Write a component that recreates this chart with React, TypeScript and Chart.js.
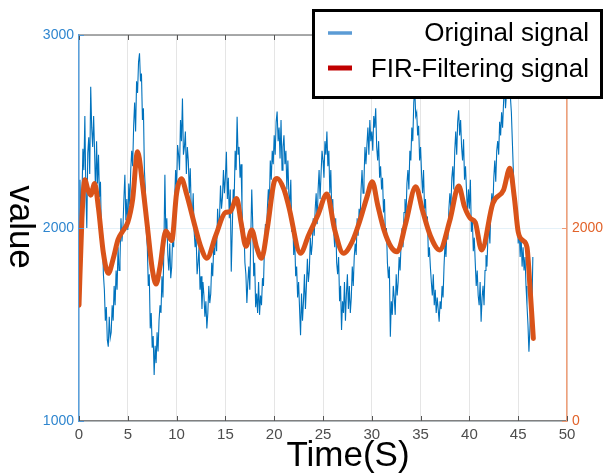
import React, { useEffect, useRef } from "react";
import { Chart, registerables } from "chart.js";

Chart.register(...registerables);

// ---- Data ----
const xTicks = [0, 5, 10, 15, 20, 25, 30, 35, 40, 45, 50];
const leftTicks = [1000, 2000, 3000];
const rightTicks = [0, 2000, 4000];
const sampleStep = 0.1; // seconds between original samples

// Original signal, one row per second (10 samples each)
const originalSignal = [
  1980, 2250, 2060, 2150, 2410, 2300, 2580, 2200, 2000, 2390,
  2470, 2280, 2732, 2520, 2420, 2580, 2390, 2170, 2450, 2230,
  2380, 2160, 2240, 1950, 1980, 1760, 1680, 1520, 1590, 1420,
  1385, 1540, 1430, 1460, 1600, 1520, 1700, 1600, 1780, 1680,
  1900, 1780, 1830, 2050, 1930, 2000, 2150, 2276, 2040, 2150,
  1990, 2230, 2120, 2300, 2400, 2320, 2530, 2650, 2500, 2760,
  2700, 2860, 2905, 2760, 2800, 2560, 2620, 2300, 2200, 1980,
  1900, 1700, 1760, 1480, 1560, 1380, 1440, 1238, 1390, 1300,
  1460, 1360, 1520, 1600, 1560, 1750, 1640, 1900, 2276, 1950,
  2050, 1860, 1780, 1920, 1740, 1800, 1960, 1900, 2150, 2300,
  2200, 2430, 2380, 2300, 2560, 2450, 2671, 2380, 2420, 2500,
  2280, 2420, 2350, 2180, 2310, 2100, 2050, 2180, 1980, 1900,
  1960, 1760, 1820, 1900, 1680, 1750, 1580, 1720, 1650, 1540,
  1620, 1480, 1560, 1700, 1611, 1660, 1820, 1750, 1900, 1860,
  1980, 1880, 2100, 1990, 2060, 2220, 2100, 2160, 2300, 2180,
  2260, 2395, 2150, 2260, 2050, 2200, 1774, 1980, 2200, 2150,
  2400, 2300, 2576, 2380, 2420, 2260, 2330, 2110, 1950, 2000,
  1820, 1760, 1611, 1720, 1800, 1680, 1950, 2200, 2020, 1750,
  1820, 1590, 1660, 1560, 1720, 1550, 1650, 1600, 1740, 1700,
  1900, 2020, 1940, 2100, 2200, 2120, 2350, 2250, 2400, 2330,
  2480, 2380, 2550, 2604, 2450, 2520, 2360, 2560, 2300, 2420,
  2480, 2330, 2400, 2200, 2350, 2180, 2120, 2250, 1980, 2050,
  1860, 1950, 1750, 1800, 1640, 1720, 1580, 1445, 1660, 1520,
  1620, 1760, 1580, 1700, 1840, 1720, 1780, 1950, 1860, 1920,
  2050, 1960, 2100, 2180, 2020, 2200, 2300, 2150, 2280, 2400,
  2350, 2260, 2450, 2380, 2500, 2320, 2400, 2180, 2300, 2080,
  2150, 1980, 1900, 2050, 1820, 1760, 1850, 1620, 1700, 1471,
  1620, 1560, 1720, 1520, 1660, 1760, 1580, 1700, 1560, 1640,
  1800, 1700, 1850, 1920, 1860, 2050, 1960, 2100, 2040, 2200,
  2300, 2180, 2250, 2420, 2330, 2430, 2520, 2380, 2560, 2450,
  2500, 2400, 2580, 2520, 2620, 2420, 2350, 2450, 2260, 2320,
  2200, 2260, 2080, 2150, 1950, 2000, 1820, 1740, 1800, 1437,
  1620, 1550, 1700, 1640, 1550, 1760, 1650, 1720, 1850, 1780,
  1920, 2000, 1900, 2080, 2150, 2050, 2230, 2300, 2200, 2400,
  2350, 2520, 2450, 2650, 2720, 2580, 2600, 2480, 2530, 2350,
  2420, 2280, 2180, 2300, 2100, 2150, 2000, 2060, 1850, 1900,
  1800, 1720, 1650, 1760, 1600, 1680, 1560, 1640, 1580, 1515,
  1620, 1580, 1700, 1640, 1800, 1920, 1850, 2000, 1940, 2100,
  2180, 2100, 2260, 2320, 2200, 2400, 2500, 2380, 2550, 2610,
  2480, 2560, 2420, 2350, 2460, 2250, 2320, 2200, 2080, 2200,
  2100, 2250, 1980, 2050, 1880, 1950, 1820, 1700, 1780, 1650,
  1600, 1720, 1514, 1640, 1700, 1600, 1780, 1860, 1800, 1960,
  2000, 1920, 2100, 2180, 2100, 2260, 2350, 2240, 2400, 2450,
  2380, 2550, 2480, 2600, 2520, 2650, 2750, 2620, 2700, 2780,
  2700, 2820, 2680, 2600, 2450, 2300, 2180, 2080, 2000, 2100,
  1920, 2000, 1850, 1960, 1800, 1900, 1780, 1850, 1700, 1600,
  1500, 1359, 1480, 1650, 1560, 1850,
];

// FIR-filtered signal (right axis), times in seconds and values
const firTimes = [
  0.0, 0.3, 0.6, 0.9, 1.2, 1.6, 2.0, 2.5, 3.0, 3.5, 4.0, 4.5, 5.0, 5.5, 6.0, 6.5,
  7.0, 7.5, 7.9, 8.3, 8.9, 9.5, 10.0, 10.5, 11.0, 11.9, 12.5, 13.1, 14.0, 15.0,
  15.5, 16.15, 16.6, 17.1, 17.7, 18.2, 18.7, 19.3, 20.0, 20.3, 21.0, 21.5, 22.7,
  23.5, 24.5, 25.4, 26.2, 27.1, 28.0, 28.8, 29.5, 30.05, 30.6, 31.25, 32.0, 32.6,
  33.5, 34.5, 35.2, 36.0, 36.95, 38.0, 38.9, 39.5, 40.1, 40.6, 41.25, 42.4, 43.5,
  44.15, 44.6, 45.0, 45.5, 45.9, 46.2, 46.55,
];
const firValues = [
  1200, 2100, 2500, 2400, 2340, 2460, 2200, 1740, 1530, 1680, 1880, 1970, 2060, 2300, 2790, 2460,
  2020, 1580, 1420, 1600, 1970, 1870, 2360, 2510, 2360, 2012, 1800, 1686, 1920, 2160,
  2170, 2306, 2060, 1810, 1980, 1800, 1686, 2000, 2480, 2514, 2400, 2220, 1738,
  1920, 2140, 2352, 1980, 1738, 1860, 2082, 2320, 2480, 2240, 1980, 1800, 1754,
  2060, 2428, 2180, 1920, 1772, 2080, 2434, 2220, 2100, 2060, 1772, 2256, 2394,
  2618, 2320, 1960, 1870, 1800, 1400, 856,
];

const legendLabels = ["Original signal", "FIR-Filtering signal"];
const xTitle = "Time(S)";
const yTitle = "value";

const FONT = "'Liberation Sans', Arial, Helvetica, sans-serif";

export default function App() {
  const ref = useRef<HTMLCanvasElement>(null);

  useEffect(() => {
    const canvas = ref.current;
    if (!canvas) return;

    const blueData = originalSignal.map((v, i) => ({ x: +(i * sampleStep).toFixed(2), y: v }));
    const firData = firTimes.map((t, i) => ({ x: t, y: firValues[i] }));

    const overlay = {
      id: "overlay",
      afterDraw(chart: any) {
        const { ctx, chartArea: a, scales } = chart;
        ctx.save();
        // top box line
        ctx.strokeStyle = "#8c8c8c";
        ctx.lineWidth = 1.5;
        ctx.beginPath();
        ctx.moveTo(a.left, a.top);
        ctx.lineTo(a.right, a.top);
        ctx.stroke();
        // inward x ticks
        ctx.strokeStyle = "#555555";
        ctx.lineWidth = 1;
        for (const v of xTicks) {
          const px = Math.round(scales.x.getPixelForValue(v)) + 0.5;
          ctx.beginPath();
          ctx.moveTo(px, a.bottom);
          ctx.lineTo(px, a.bottom - 5);
          ctx.moveTo(px, a.top);
          ctx.lineTo(px, a.top + 5);
          ctx.stroke();
        }
        // inward y ticks
        ctx.strokeStyle = "#4f97d6";
        for (const v of leftTicks) {
          const py = Math.round(scales.y.getPixelForValue(v)) + 0.5;
          ctx.beginPath();
          ctx.moveTo(a.left, py);
          ctx.lineTo(a.left + 5, py);
          ctx.stroke();
        }
        ctx.strokeStyle = "#ee9a74";
        for (const v of rightTicks) {
          const py = Math.round(scales.y2.getPixelForValue(v)) + 0.5;
          ctx.beginPath();
          ctx.moveTo(a.right, py);
          ctx.lineTo(a.right - 5, py);
          ctx.stroke();
        }
        // axis titles
        ctx.fillStyle = "#000000";
        ctx.font = `35px ${FONT}`;
        ctx.textAlign = "center";
        ctx.textBaseline = "alphabetic";
        ctx.fillText(xTitle, 348, 466);
        ctx.save();
        ctx.translate(10, 227);
        ctx.rotate(Math.PI / 2);
        ctx.fillText(yTitle, 0, 0);
        ctx.restore();
        // legend
        ctx.fillStyle = "#ffffff";
        ctx.fillRect(313, 10, 289, 88);
        ctx.strokeStyle = "#000000";
        ctx.lineWidth = 3;
        ctx.strokeRect(313.5, 10.5, 288, 87);
        ctx.lineWidth = 3.5;
        ctx.strokeStyle = "#5b9bd5";
        ctx.beginPath();
        ctx.moveTo(328, 33);
        ctx.lineTo(352, 33);
        ctx.stroke();
        ctx.lineWidth = 5;
        ctx.strokeStyle = "#c00000";
        ctx.beginPath();
        ctx.moveTo(328, 68);
        ctx.lineTo(352, 68);
        ctx.stroke();
        ctx.fillStyle = "#000000";
        ctx.font = `26px ${FONT}`;
        ctx.textAlign = "right";
        ctx.fillText(legendLabels[0], 589, 41);
        ctx.fillText(legendLabels[1], 589, 77);
        ctx.restore();
      },
    };

    const plain = (v: any) => String(v);

    const chart = new Chart(canvas, {
      type: "line",
      data: {
        datasets: [
          {
            label: legendLabels[0],
            data: blueData,
            yAxisID: "y",
            borderColor: "#0072BD",
            borderWidth: 1.1,
            pointRadius: 0,
            tension: 0,
            order: 2,
          },
          {
            label: legendLabels[1],
            data: firData,
            yAxisID: "y2",
            borderColor: "#D95319",
            borderWidth: 5,
            pointRadius: 0,
            tension: 0.4,
            cubicInterpolationMode: "monotone",
            borderCapStyle: "round",
            borderJoinStyle: "round",
            order: 1,
          },
        ],
      },
      options: {
        animation: false,
        responsive: false,
        devicePixelRatio: 1,
        layout: { padding: { top: 35, left: 0, right: 0, bottom: 0 } },
        plugins: { legend: { display: false }, tooltip: { enabled: false } },
        scales: {
          x: {
            type: "linear",
            min: 0,
            max: 50,
            afterBuildTicks: (s: any) => {
              s.ticks = xTicks.map((v) => ({ value: v }));
            },
            afterFit: (s: any) => {
              s.height = 52;
            },
            ticks: {
              color: "#4d4d4d",
              font: { family: FONT, size: 15 },
              padding: 5,
              maxRotation: 0,
              callback: plain,
            },
            grid: { color: "rgba(38,38,38,0.12)", drawTicks: false },
            border: { display: true, color: "#808080", width: 1.5 },
          },
          y: {
            type: "linear",
            position: "left",
            min: 1000,
            max: 3000,
            afterBuildTicks: (s: any) => {
              s.ticks = leftTicks.map((v) => ({ value: v }));
            },
            afterFit: (s: any) => {
              s.width = 79;
            },
            ticks: {
              color: "#2f86cf",
              font: { family: FONT, size: 14 },
              padding: 5,
              callback: plain,
            },
            grid: { color: "rgba(0,114,189,0.1)", drawTicks: false },
            border: { display: true, color: "#5aa0dc", width: 1.5 },
          },
          y2: {
            type: "linear",
            position: "right",
            min: 0,
            max: 4000,
            afterBuildTicks: (s: any) => {
              s.ticks = rightTicks.map((v) => ({ value: v }));
            },
            afterFit: (s: any) => {
              s.width = 37;
            },
            ticks: {
              color: "#e2632a",
              font: { family: FONT, size: 14 },
              padding: 5,
              callback: plain,
            },
            grid: { drawOnChartArea: false, drawTicks: false },
            border: { display: true, color: "#f0a07a", width: 1.5 },
          },
        },
      },
      plugins: [overlay],
    });

    return () => chart.destroy();
  }, []);

  return (
    <div style={{ position: "fixed", left: 0, top: 0, width: 604, height: 473, background: "#ffffff" }}>
      <canvas ref={ref} width={604} height={473} style={{ width: 604, height: 473, display: "block" }} />
    </div>
  );
}
